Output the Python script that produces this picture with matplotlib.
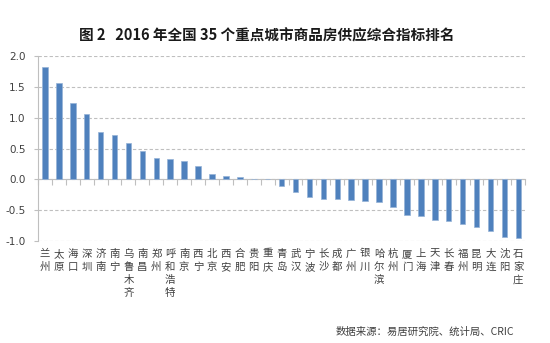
import matplotlib
matplotlib.use('Agg')
import matplotlib.pyplot as plt
import matplotlib.transforms as mtransforms
import numpy as np

plt.rcParams['font.family'] = ['Noto Sans CJK SC', 'DejaVu Sans']

# 城市及综合指标
cities = ['兰州', '太原', '海口', '深圳', '济南', '南宁', '乌鲁木齐', '南昌', '郑州',
          '呼和浩特', '南京', '西宁', '北京', '西安', '合肥', '贵阳', '重庆', '青岛',
          '武汉', '宁波', '长沙', '成都', '广州', '银川', '哈尔滨', '杭州', '厦门',
          '上海', '天津', '长春', '福州', '昆明', '大连', '沈阳', '石家庄']
values = [1.82, 1.56, 1.24, 1.06, 0.77, 0.72, 0.59, 0.46, 0.35,
          0.33, 0.30, 0.22, 0.08, 0.06, 0.04, 0.01, 0.01, -0.11,
          -0.20, -0.29, -0.31, -0.31, -0.33, -0.35, -0.36, -0.45, -0.57,
          -0.60, -0.66, -0.68, -0.72, -0.77, -0.83, -0.93, -0.95]
yticks = [-1.0, -0.5, 0.0, 0.5, 1.0, 1.5, 2.0]

title = '图 2   2016 年全国 35 个重点城市商品房供应综合指标排名'
source = '数据来源：易居研究院、统计局、CRIC'

fig = plt.figure(figsize=(5.5, 3.43), dpi=100)
ax = fig.add_axes([0.069, 0.297, 0.886, 0.54])

x = np.arange(len(cities))
ax.bar(x, values, width=0.4, color='#4F81BD', edgecolor='#95B3D7', linewidth=0.5, zorder=3)

ax.set_xlim(-0.5, len(cities) - 0.5)
ax.set_ylim(-1.0, 2.0)
ax.set_yticks(yticks)
ax.set_yticklabels(['%.1f' % v for v in yticks], fontsize=7.5, color='#404040',
                   family='DejaVu Sans')
ax.tick_params(axis='y', length=3, color='#BFBFBF', pad=6)

# 网格线
ax.grid(axis='y', linestyle=(0, (3, 2)), color='#BFBFBF', linewidth=0.8, zorder=0)

# 坐标轴
for s in ['top', 'right']:
    ax.spines[s].set_visible(False)
ax.spines['left'].set_color('#BFBFBF')
ax.spines['bottom'].set_position(('data', 0))
ax.spines['bottom'].set_color('#BFBFBF')
ax.set_xticks([-0.5] + list(x + 0.5))
ax.set_xticklabels([])
ax.tick_params(axis='x', direction='out', length=4, color='#BFBFBF')

# 竖排城市名
trans = mtransforms.blended_transform_factory(ax.transData, fig.transFigure)
for i, name in enumerate(cities):
    ax.text(i, 0.275, '\n'.join(name), transform=trans, ha='center', va='top',
            fontsize=7.5, color='#404040', linespacing=1.4)

fig.text(0.485, 0.897, title, ha='center', va='center', fontsize=10.5,
         fontweight='bold', color='#1a1a1a')
fig.text(0.61, 0.032, source, ha='left', va='center', fontsize=7.5, color='#404040')

plt.savefig('out.png', dpi=100)
